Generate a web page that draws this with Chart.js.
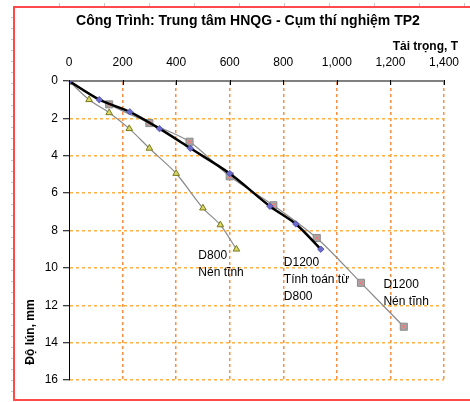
<!DOCTYPE html>
<html>
<head>
<meta charset="utf-8">
<script src="https://cdn.jsdelivr.net/npm/chart.js@4.4.1/dist/chart.umd.min.js"></script>
<style>
  html, body { margin: 0; padding: 0; background: #fff; }
  canvas { display: block; }
</style>
</head>
<body>
<canvas id="myChart" width="470" height="402"></canvas>
<script>
// tai trong (T) va do lun (mm) cho tung loat thi nghiem
var d800Load = [0, 75, 150, 225, 300, 400, 500, 565, 625];
var d800Settle = [0, 1.0, 1.7, 2.55, 3.6, 4.95, 6.8, 7.7, 9.0];

var d1200Load = [0, 150, 300, 450, 600, 763, 925, 1090, 1250];
var d1200Settle = [0, 1.25, 2.25, 3.25, 5.1, 6.65, 8.4, 10.8, 13.15];

var calcLoad = [0, 113, 227, 338, 453, 600, 750, 847, 940];
var calcSettle = [0, 1.0, 1.65, 2.55, 3.6, 4.95, 6.7, 7.65, 9.0];

var loadTicks = [0, 200, 400, 600, 800, 1000, 1200, 1400];
var settleTicks = [0, 2, 4, 6, 8, 10, 12, 14, 16];

// nhan ghi chu dat theo toa do du lieu [tai, lun, cac dong chu]
var notes = [
    [483, 9.35, ['D800', 'Nén tĩnh']],
    [802, 9.7, ['D1200', 'Tính toán từ', 'D800']],
    [1174, 10.9, ['D1200', 'Nén tĩnh']]
];

function toPoints(xs, ys) {
    return xs.map(function (x, i) { return { x: x, y: ys[i] }; });
}

var FONT = '"Liberation Sans", Arial, sans-serif';

var framePlugin = {
    id: 'frame',
    beforeDraw: function (chart) {
        var c = chart.ctx;
        c.save();
        c.fillStyle = '#fff';
        c.fillRect(0, 0, chart.width, chart.height);
        // vach thuoc xam ben ngoai khung
        c.strokeStyle = '#c8c8c8';
        c.lineWidth = 1;
        for (var y = 17; y < 402; y += 11) {
            c.beginPath(); c.moveTo(11, y + 0.5); c.lineTo(14, y + 0.5); c.stroke();
        }
        for (var x = 59; x < 470; x += 45) {
            c.beginPath(); c.moveTo(x + 0.5, 3); c.lineTo(x + 0.5, 6); c.stroke();
        }
        c.strokeStyle = '#ff4a4a';
        c.lineWidth = 2;
        c.strokeRect(14, 7, 470, 393);
        c.restore();
    },
    afterDatasetsDraw: function (chart) {
        var c = chart.ctx;
        var xs = chart.scales.x, ys = chart.scales.y;
        c.save();
        // vach chia nho huong vao trong tren truc tai trong
        c.strokeStyle = '#000';
        c.lineWidth = 1;
        loadTicks.forEach(function (v) {
            var px = Math.round(xs.getPixelForValue(v)) + 0.5;
            c.beginPath(); c.moveTo(px, ys.top - 1); c.lineTo(px, ys.top + 4); c.stroke();
        });
        // ghi chu tung duong
        c.fillStyle = '#000';
        c.font = '12px ' + FONT;
        c.textBaseline = 'middle';
        c.textAlign = 'left';
        notes.forEach(function (n) {
            var px = xs.getPixelForValue(n[0]);
            var py = ys.getPixelForValue(n[1]);
            n[2].forEach(function (line, i) {
                c.fillText(line, px, py + i * 17);
            });
        });
        // tieu de
        c.font = 'bold 14px ' + FONT;
        c.textAlign = 'center';
        c.fillText('Công Trình: Trung tâm HNQG - Cụm thí nghiệm TP2', 248, 21);
        c.font = 'bold 12px ' + FONT;
        c.textAlign = 'right';
        c.fillText('Tải trọng, T', 458, 47);
        c.translate(31, 332);
        c.rotate(-Math.PI / 2);
        c.textAlign = 'center';
        c.fillText('Độ lún, mm', 0, 0);
        c.restore();
    }
};

function viewChart() {
    var ctx = document.getElementById('myChart').getContext('2d');

    var myChart = new Chart(ctx, {
        type: 'scatter',
        data: {
            datasets: [{
                label: 'D1200 Tính toán từ D800',
                data: toPoints(calcLoad, calcSettle),
                showLine: true,
                borderColor: '#000',
                borderWidth: 2.5,
                tension: 0.3,
                pointStyle: 'rectRot',
                pointRadius: 3.2,
                backgroundColor: '#6a6ac8',
                pointBorderColor: '#5a5ab8',
                pointBorderWidth: 1
            }, {
                label: 'D1200 Nén tĩnh (x)',
                data: toPoints(d1200Load, d1200Settle),
                showLine: false,
                pointStyle: 'crossRot',
                pointRadius: 3,
                pointBorderColor: '#ff7070',
                pointBorderWidth: 1
            }, {
                label: 'D1200 Nén tĩnh',
                data: toPoints(d1200Load, d1200Settle),
                showLine: true,
                borderColor: '#8a8a8a',
                borderWidth: 1.2,
                tension: 0.3,
                pointStyle: 'rect',
                pointRadius: 5,
                backgroundColor: '#a6a6a6',
                pointBorderColor: '#8c8c8c',
                pointBorderWidth: 1
            }, {
                label: 'D800 Nén tĩnh',
                data: toPoints(d800Load, d800Settle),
                showLine: true,
                borderColor: '#8a8a8a',
                borderWidth: 1.2,
                tension: 0.3,
                pointStyle: 'triangle',
                pointRadius: 3.8,
                backgroundColor: '#d6d66a',
                pointBorderColor: '#7a7a1a',
                pointBorderWidth: 1
            }]
        },
        options: {
            responsive: false,
            animation: false,
            devicePixelRatio: 1,
            layout: { padding: { left: 14, right: 24, top: 0, bottom: 22 } },
            plugins: {
                legend: { display: false },
                tooltip: { enabled: false }
            },
            scales: {
                x: {
                    type: 'linear',
                    position: 'top',
                    min: 0,
                    max: 1400,
                    afterFit: function (s) { s.height = 81; },
                    afterBuildTicks: function (s) {
                        s.ticks = loadTicks.map(function (v) { return { value: v }; });
                    },
                    ticks: {
                        padding: 11,
                        color: '#000',
                        font: { family: FONT, size: 12 },
                        maxRotation: 0
                    },
                    grid: {
                        color: function (c) { return c.tick.value === 0 ? 'rgba(0,0,0,0)' : '#ff8c40'; },
                        lineWidth: 1.5,
                        drawTicks: false
                    },
                    border: { color: '#808080', width: 2, dash: [3, 3] }
                },
                y: {
                    type: 'linear',
                    reverse: true,
                    min: 0,
                    max: 16,
                    afterFit: function (s) { s.width = 55; },
                    afterBuildTicks: function (s) {
                        s.ticks = settleTicks.map(function (v) { return { value: v }; });
                    },
                    ticks: {
                        padding: 5,
                        color: '#000',
                        font: { family: FONT, size: 12 }
                    },
                    grid: {
                        color: function (c) { return c.tick.value === 0 ? 'rgba(0,0,0,0)' : '#ffb040'; },
                        lineWidth: 1.5,
                        tickColor: '#000',
                        tickLength: 6,
                        tickBorderDash: [],
                        tickWidth: 1
                    },
                    border: { color: '#000', width: 1, dash: [3, 3] }
                }
            }
        },
        plugins: [framePlugin]
    });
}
viewChart();
</script>
</body>
</html>
